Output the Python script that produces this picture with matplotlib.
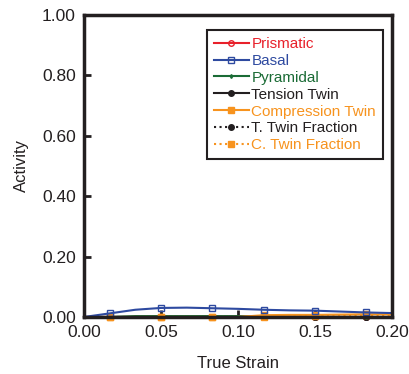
import numpy as np
import matplotlib
matplotlib.use("Agg")
import matplotlib.pyplot as plt

plt.rcParams['font.family'] = ['Liberation Sans', 'DejaVu Sans']

strain = [0.0, 0.0167, 0.0333, 0.05, 0.0667, 0.0833, 0.1, 0.1167, 0.1333, 0.15, 0.1667, 0.1833, 0.2]
prismatic = [0.0, 0.0, 0.0, 0.0, 0.0, 0.0, 0.0, 0.0, 0.0, 0.0, 0.0, 0.0, 0.0]
basal = [0.0, 0.012, 0.024, 0.030, 0.031, 0.029, 0.027, 0.024, 0.022, 0.021, 0.018, 0.015, 0.013]
pyramidal = [0.0, 0.0, 0.003, 0.003, 0.003, 0.003, 0.003, 0.001, 0.0, 0.0, 0.0, 0.0, 0.0]
tension_twin = [0.0, 0.0, 0.0, 0.0, 0.0, 0.0, 0.0, 0.0, 0.0, 0.0, 0.0, 0.0, 0.0]
compression_twin = [0.0, 0.0, 0.0, 0.0, 0.0, 0.0, 0.0, 0.006, 0.007, 0.007, 0.008, 0.009, 0.009]
t_twin_frac = [0.0, 0.0, 0.0, 0.0, 0.0, 0.0, 0.0, 0.0, 0.0, 0.0, 0.0, 0.0, 0.0]
c_twin_frac = [0.0, 0.0, 0.0, 0.0, 0.0, 0.0, 0.0, 0.001, 0.002, 0.003, 0.004, 0.005, 0.006]

xticks = [0.0, 0.05, 0.10, 0.15, 0.20]
yticks = [0.0, 0.2, 0.4, 0.6, 0.8, 1.0]

dark = '#231f20'
fig = plt.figure(figsize=(4.09, 3.74), dpi=100)
ax = fig.add_axes([84 / 409, 57 / 374, 308 / 409, 302 / 374])

me = (1, 2)
ax.plot(strain, prismatic, color='#e8202a', lw=1.5, marker='o', ms=4, mfc='none', markevery=me, label='Prismatic', clip_on=False)
ax.plot(strain, tension_twin, color=dark, lw=1.5, marker='o', ms=4, markevery=me, label='Tension Twin', clip_on=False)
ax.plot(strain, t_twin_frac, color=dark, lw=1.5, ls=':', marker='o', ms=4, markevery=me, label='T. Twin Fraction', clip_on=False)
ax.plot(strain, pyramidal, color='#1a6b35', lw=1.5, marker='d', ms=2, mfc='none', markevery=me, label='Pyramidal', clip_on=False)
ax.plot(strain, c_twin_frac, color='#f7931e', lw=1.5, ls=':', marker='s', ms=5, markevery=me, label='C. Twin Fraction', clip_on=False)
ax.plot(strain, compression_twin, color='#f7931e', lw=1.5, marker='s', ms=5, markevery=me, label='Compression Twin', clip_on=False)
ax.plot(strain, basal, color='#2e4aa0', lw=1.5, marker='s', ms=5, mfc='none', markevery=me, label='Basal', clip_on=False)

ax.set_xlim(0, 0.2)
ax.set_ylim(0, 1.0)
ax.set_xticks(xticks)
ax.set_yticks(yticks)
ax.set_xticklabels(['%.2f' % t for t in xticks])
ax.set_yticklabels(['%.2f' % t for t in yticks])
ax.tick_params(direction='in', length=5, width=2, labelsize=12.5, colors=dark, labelcolor=dark)
ax.tick_params(axis='y', pad=6)
ax.tick_params(axis='x', pad=6)
for s in ax.spines.values():
    s.set_linewidth(2.5)
    s.set_color(dark)

ax.set_xlabel('True Strain', fontsize=12, labelpad=11, color=dark)
ax.set_ylabel('Activity', fontsize=12, labelpad=9, color=dark)

handles, labels = ax.get_legend_handles_labels()
order = ['Prismatic', 'Basal', 'Pyramidal', 'Tension Twin', 'Compression Twin', 'T. Twin Fraction', 'C. Twin Fraction']
hmap = dict(zip(labels, handles))
leg = ax.legend([hmap[k] for k in order], order, loc='upper right', bbox_to_anchor=(0.97, 0.95),
                fontsize=11, frameon=True, fancybox=False, edgecolor=dark, framealpha=1,
                handlelength=2.3, handletextpad=0.15, labelspacing=0.19, borderpad=0.45, borderaxespad=0)
leg.get_frame().set_linewidth(1.5)
colors = {'Prismatic': '#e8202a', 'Basal': '#2e4aa0', 'Pyramidal': '#1a6b35', 'Tension Twin': dark,
          'Compression Twin': '#f7931e', 'T. Twin Fraction': dark, 'C. Twin Fraction': '#f7931e'}
for t in leg.get_texts():
    t.set_color(colors[t.get_text()])

fig.savefig('out.png', dpi=100)
